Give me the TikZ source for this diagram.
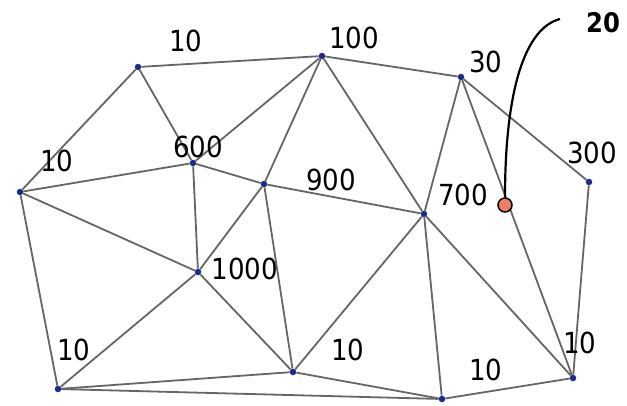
\documentclass[tikz,border=0pt]{standalone}
\usepackage{fontspec}
\setmainfont{DejaVu Sans Condensed}
\begin{document}
\begin{tikzpicture}[x=1pt,y=-1pt,
  vtx/.style={circle,fill=vtxblue,inner sep=0pt,minimum size=6.5pt},
  edge/.style={draw=edgegray,line width=1.8pt},
  lbl/.style={inner sep=0pt,font=\fontsize{29}{34}\selectfont},
  hot/.style={circle,draw=black,line width=1.5pt,fill=hotred,inner sep=0pt,minimum size=14pt},
  callout/.style={draw=black,line width=2.2pt}]
\definecolor{vtxblue}{HTML}{1C2A8C}
\definecolor{edgegray}{HTML}{666666}
\definecolor{hotred}{HTML}{EE7F66}
\useasboundingbox (0,0) rectangle (627,405);
\node[vtx] (A) at (138,67) {};
\node[vtx] (B) at (322,56) {};
\node[vtx] (C) at (461,77) {};
\node[vtx] (D) at (589,182) {};
\node[vtx] (E) at (20,192) {};
\node[vtx] (F) at (193,163) {};
\node[vtx] (G) at (264,184) {};
\node[vtx] (H) at (424,214) {};
\node[vtx] (I) at (198,272) {};
\node[vtx] (J) at (58,389) {};
\node[vtx] (K) at (293,372) {};
\node[vtx] (L) at (442,399) {};
\node[vtx] (M) at (573,378) {};
\foreach \a/\b in {A/B,A/E,A/F,B/F,B/G,B/H,B/C,C/H,C/D,C/M,D/M,E/F,E/I,E/J,F/G,F/I,G/I,G/K,G/H,I/J,I/K,H/K,H/L,H/M,J/K,J/L,K/L,L/M}
  \draw[edge] (\a) -- (\b);
\node[hot] (R) at (505,205) {};
\coordinate (S) at (560,19);
\draw[callout] (S) .. controls (525,28) and (505,90) .. (R.north);
\node[lbl] (l1) at (186,41) {10};
\node[lbl] (l2) at (57,161) {10};
\node[lbl] (l3) at (198,147) {600};
\node[lbl] (l4) at (354,38) {100};
\node[lbl] (l5) at (486,62) {30};
\node[lbl] (l6) at (592,153) {300};
\node[lbl] (l7) at (331,180) {900};
\node[lbl] (l8) at (463,195) {700};
\node[lbl] (l9) at (245,269) {1000};
\node[lbl] (l10) at (74,350) {10};
\node[lbl] (l11) at (348,350) {10};
\node[lbl] (l12) at (486,370) {10};
\node[lbl] (l13) at (580,343) {10};
\node[inner sep=0pt,font=\fontsize{27}{32}\selectfont\bfseries] (t20) at (603,23) {20};
\end{tikzpicture}
\end{document}
